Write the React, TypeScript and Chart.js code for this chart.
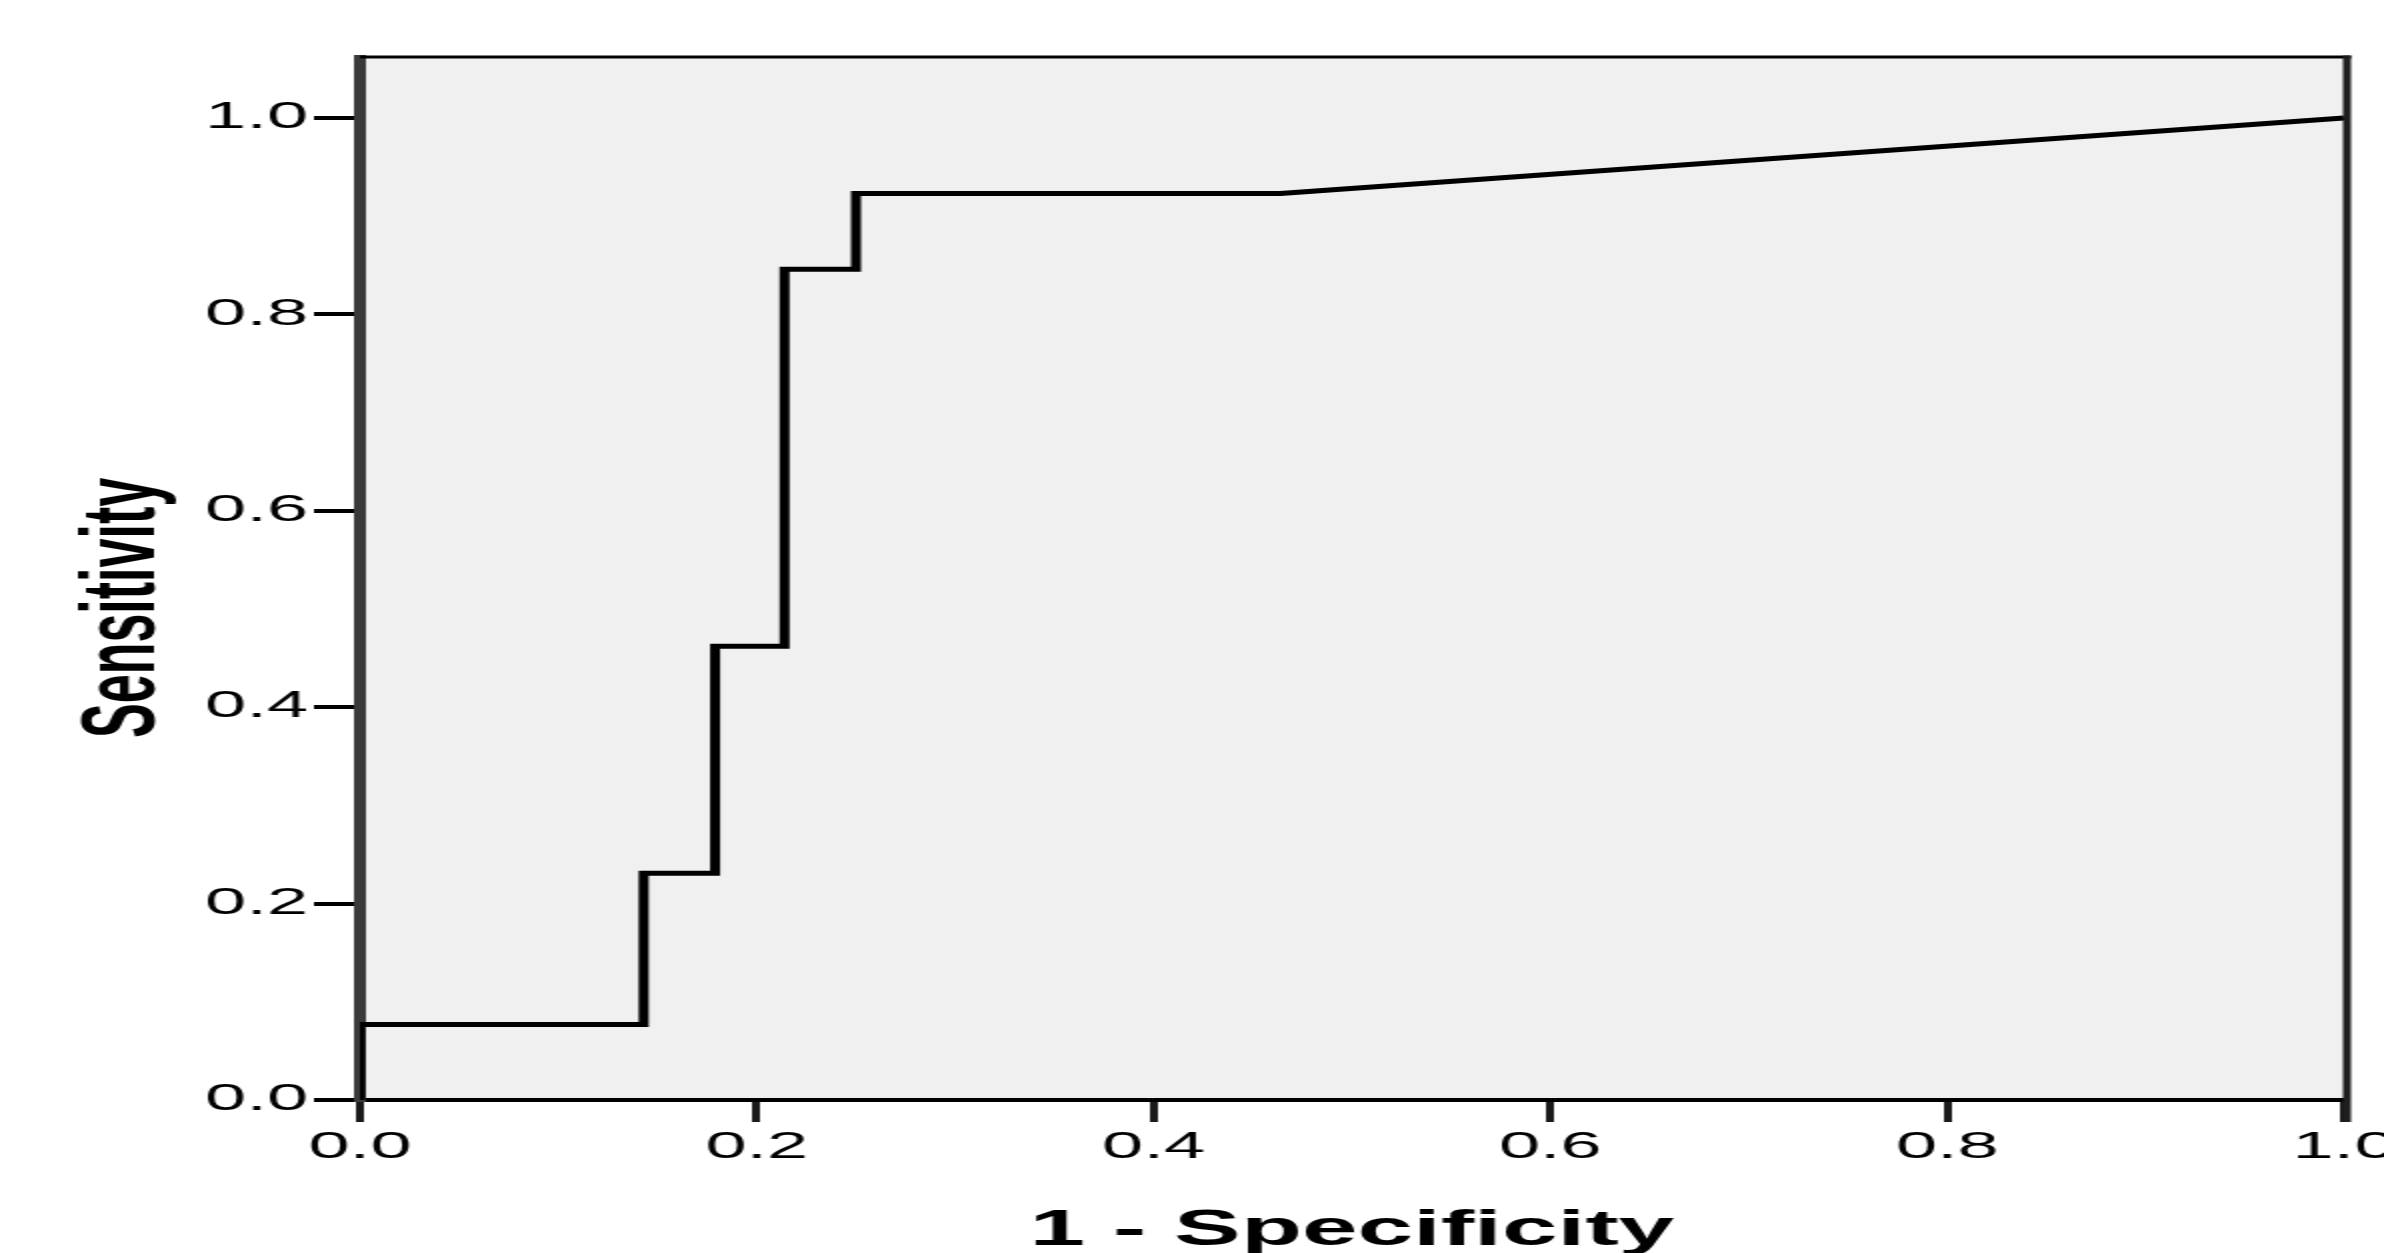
import React, { useEffect, useRef } from "react";
import { Chart, registerables } from "chart.js";

Chart.register(...registerables);

// ROC curve points (1 - Specificity, Sensitivity)
const fpr = [0, 0, 0.143, 0.143, 0.179, 0.179, 0.214, 0.214, 0.25, 0.25, 0.464, 1.0];
const tpr = [0, 0.077, 0.077, 0.231, 0.231, 0.462, 0.462, 0.846, 0.846, 0.923, 0.923, 1.0];
const xTicks = [0, 0.2, 0.4, 0.6, 0.8, 1.0];
const yTicks = [0, 0.2, 0.4, 0.6, 0.8, 1.0];
const xTitle = "1 - Specificity";
const yTitle = "Sensitivity";

// The reference is horizontally stretched 2x: draw on a half-width canvas and stretch it with CSS.
const CANVAS_W = 1192;
const CANVAS_H = 1270;
const STRETCH = 2;
const FONT = "'Liberation Sans', Arial, Helvetica, sans-serif";

const framePlugin = {
  id: "frame",
  beforeDraw(chart: any) {
    const { ctx, chartArea: a } = chart;
    ctx.save();
    ctx.fillStyle = "#f0f0f0";
    ctx.fillRect(a.left, a.top, a.right - a.left, a.bottom - a.top);
    ctx.restore();
  },
  afterDraw(chart: any) {
    const { ctx, chartArea: a } = chart;
    ctx.save();
    ctx.lineCap = "butt";
    // top frame line
    ctx.strokeStyle = "#000";
    ctx.lineWidth = 3;
    ctx.beginPath();
    ctx.moveTo(a.left, a.top - 1);
    ctx.lineTo(a.right + 3.5, a.top - 1);
    ctx.stroke();
    // right frame line
    ctx.strokeStyle = "#1e1e1e";
    ctx.lineWidth = 4;
    ctx.beginPath();
    ctx.moveTo(a.right + 1.5, a.top - 2.5);
    ctx.lineTo(a.right + 1.5, a.bottom + 22);
    ctx.stroke();
    ctx.restore();
  },
};

export default function App() {
  const canvasRef = useRef<HTMLCanvasElement | null>(null);

  useEffect(() => {
    const canvas = canvasRef.current;
    if (!canvas) return;
    const points = fpr.map((x, i) => ({ x, y: tpr[i] }));
    const chart = new Chart(canvas, {
      type: "scatter",
      data: {
        datasets: [
          {
            data: points,
            showLine: true,
            borderColor: "#000",
            borderWidth: 5,
            pointRadius: 0,
            pointHoverRadius: 0,
            tension: 0,
            fill: false,
          },
        ],
      },
      options: {
        animation: false,
        responsive: false,
        devicePixelRatio: 1,
        events: [],
        layout: { padding: { top: 58, right: 20, bottom: 0, left: 0 } },
        plugins: {
          legend: { display: false },
          tooltip: { enabled: false },
          title: { display: false },
        },
        scales: {
          x: {
            type: "linear",
            position: "bottom",
            min: 0,
            max: 1,
            afterBuildTicks: (s: any) => {
              s.ticks = xTicks.map((v) => ({ value: v }));
            },
            afterFit: (s: any) => {
              s.height = 170;
              s.paddingRight = 0;
              s.paddingLeft = 0;
            },
            ticks: {
              callback: (v: any) => Number(v).toFixed(1),
              color: "#000",
              font: { family: FONT, size: 37 },
              padding: 4,
              maxRotation: 0,
              autoSkip: false,
            },
            grid: {
              drawOnChartArea: false,
              drawTicks: true,
              tickLength: 22,
              tickWidth: 4,
              tickColor: "#1a1a1a",
              lineWidth: 4,
              color: "#1a1a1a",
            },
            border: { display: true, width: 4, color: "#000" },
            title: {
              display: true,
              text: xTitle,
              color: "#000",
              font: { family: FONT, size: 50, weight: "bold" },
              padding: { top: 0, bottom: 9 },
            },
          },
          y: {
            type: "linear",
            position: "left",
            min: 0,
            max: 1.061,
            afterBuildTicks: (s: any) => {
              s.ticks = yTicks.map((v) => ({ value: v }));
            },
            afterFit: (s: any) => {
              s.width = 180;
            },
            ticks: {
              callback: (v: any) => Number(v).toFixed(1),
              color: "#000",
              font: { family: FONT, size: 37 },
              padding: 3,
              autoSkip: false,
            },
            grid: {
              drawOnChartArea: false,
              drawTicks: true,
              tickLength: 23,
              tickWidth: 4,
              tickColor: "#000",
              lineWidth: 4,
              color: "#000",
            },
            border: { display: true, width: 6, color: "#3a3a3a" },
            title: {
              display: true,
              text: yTitle + "    ",
              color: "#000",
              font: { family: FONT, size: 52, weight: "bold" },
              padding: { top: 31, bottom: 0 },
            },
          },
        },
      },
      plugins: [framePlugin],
    } as any);
    return () => {
      chart.destroy();
    };
  }, []);

  return (
    <div
      style={{
        position: "fixed",
        left: 0,
        top: 0,
        width: 2402,
        height: 1253,
        overflow: "hidden",
        background: "#fff",
      }}
    >
      <canvas
        ref={canvasRef}
        width={CANVAS_W}
        height={CANVAS_H}
        style={{
          display: "block",
          width: CANVAS_W * STRETCH + "px",
          height: CANVAS_H + "px",
        }}
      />
    </div>
  );
}
